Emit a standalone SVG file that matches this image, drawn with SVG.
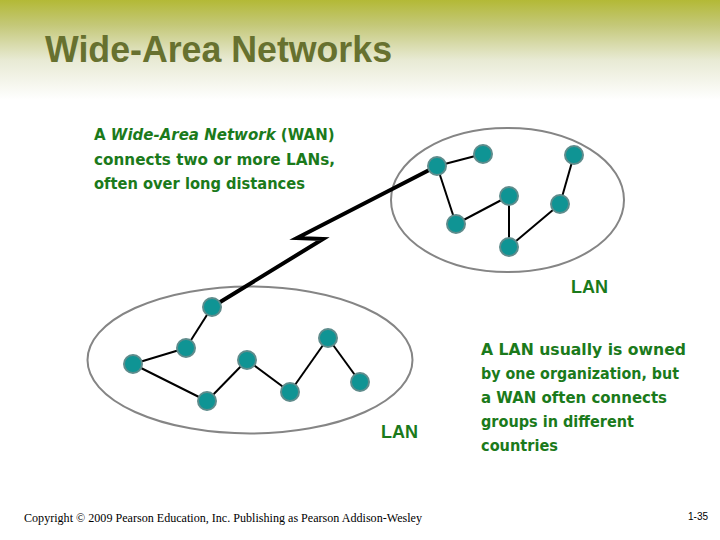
<svg xmlns="http://www.w3.org/2000/svg" width="720" height="540" viewBox="0 0 720 540">
<defs>
<linearGradient id="bg" x1="0" y1="0" x2="0" y2="1">
<stop offset="0" stop-color="#b3b936"/>
<stop offset="0.25" stop-color="#c4c878"/>
<stop offset="0.6" stop-color="#e8ead4"/>
<stop offset="1" stop-color="#ffffff"/>
</linearGradient>
</defs>
<style>
.lan{fill:none;stroke:#858585;stroke-width:2}
.node{fill:#0f9494;stroke:#5e8c8c;stroke-width:2}
.edge{stroke:#000;stroke-width:2;fill:none}
.wan{stroke:#000;stroke-width:4;fill:none;stroke-linejoin:miter}
.gt{font-family:"DejaVu Sans",Verdana,sans-serif;font-weight:bold;font-size:16px;fill:#1b7a1b}
.lbl{font-family:"Liberation Sans",Arial,sans-serif;font-weight:bold;font-size:18px;fill:#1b7a1b}
</style>
<rect x="0" y="0" width="720" height="100" fill="url(#bg)"/>
<text x="45" y="62" font-family="Liberation Sans, Arial, sans-serif" font-weight="bold" font-size="36" fill="#67712f" textLength="347" lengthAdjust="spacingAndGlyphs">Wide-Area Networks</text>

<g id="description">
<text class="gt" x="94" y="140" style="font-size:15px">A <tspan font-style="italic">Wide-Area Network</tspan> (WAN)</text>
<text class="gt" x="94" y="165" textLength="241" lengthAdjust="spacingAndGlyphs">connects two or more LANs,</text>
<text class="gt" x="94" y="189" textLength="211" lengthAdjust="spacingAndGlyphs">often over long distances</text>
</g>

<g id="note">
<text class="gt" x="481" y="355" textLength="205" lengthAdjust="spacingAndGlyphs">A LAN usually is owned</text>
<text class="gt" x="481" y="379" textLength="198" lengthAdjust="spacingAndGlyphs">by one organization, but</text>
<text class="gt" x="481" y="403" textLength="186" lengthAdjust="spacingAndGlyphs">a WAN often connects</text>
<text class="gt" x="481" y="427" textLength="153" lengthAdjust="spacingAndGlyphs">groups in different</text>
<text class="gt" x="481" y="451" textLength="77" lengthAdjust="spacingAndGlyphs">countries</text>
</g>

<g id="lan-top">
<ellipse class="lan" cx="507.5" cy="200" rx="116.5" ry="72"/>
<text class="lbl" x="571" y="293" textLength="37" lengthAdjust="spacingAndGlyphs">LAN</text>
</g>
<g id="lan-bottom">
<ellipse class="lan" cx="250" cy="360" rx="162.5" ry="73.5"/>
<text class="lbl" x="381" y="438" textLength="37" lengthAdjust="spacingAndGlyphs">LAN</text>
</g>

<g id="connectors">
<path class="wan" d="M437,166 L297,238 L323,239 L212,307"/>
<line class="edge" x1="437" y1="166" x2="483" y2="154"/>
<line class="edge" x1="437" y1="166" x2="456" y2="224"/>
<line class="edge" x1="456" y1="224" x2="509" y2="196"/>
<line class="edge" x1="509" y1="196" x2="509" y2="247"/>
<line class="edge" x1="509" y1="247" x2="560" y2="204"/>
<line class="edge" x1="560" y1="204" x2="574" y2="155"/>
<line class="edge" x1="212" y1="307" x2="186" y2="348"/>
<line class="edge" x1="186" y1="348" x2="133" y2="364"/>
<line class="edge" x1="133" y1="364" x2="207" y2="401"/>
<line class="edge" x1="207" y1="401" x2="247" y2="360"/>
<line class="edge" x1="247" y1="360" x2="290" y2="392"/>
<line class="edge" x1="290" y1="392" x2="328" y2="338"/>
<line class="edge" x1="328" y1="338" x2="360" y2="382"/>
</g>

<g id="t1"><circle class="node" cx="437" cy="166" r="9"/></g>
<g id="t2"><circle class="node" cx="483" cy="154" r="9"/></g>
<g id="t3"><circle class="node" cx="574" cy="155" r="9"/></g>
<g id="t4"><circle class="node" cx="456" cy="224" r="9"/></g>
<g id="t5"><circle class="node" cx="509" cy="196" r="9"/></g>
<g id="t6"><circle class="node" cx="560" cy="204" r="9"/></g>
<g id="t7"><circle class="node" cx="509" cy="247" r="9"/></g>

<g id="b1"><circle class="node" cx="212" cy="307" r="9"/></g>
<g id="b2"><circle class="node" cx="186" cy="348" r="9"/></g>
<g id="b3"><circle class="node" cx="133" cy="364" r="9"/></g>
<g id="b4"><circle class="node" cx="207" cy="401" r="9"/></g>
<g id="b5"><circle class="node" cx="247" cy="360" r="9"/></g>
<g id="b6"><circle class="node" cx="290" cy="392" r="9"/></g>
<g id="b7"><circle class="node" cx="328" cy="338" r="9"/></g>
<g id="b8"><circle class="node" cx="360" cy="382" r="9"/></g>

<text x="24" y="522" font-family="Liberation Serif, Times New Roman, serif" font-size="12" fill="#000" textLength="398" lengthAdjust="spacingAndGlyphs">Copyright © 2009 Pearson Education, Inc. Publishing as Pearson Addison-Wesley</text>
<text x="688" y="520" font-family="Liberation Sans, Arial, sans-serif" font-size="10" fill="#000">1-35</text>
</svg>
